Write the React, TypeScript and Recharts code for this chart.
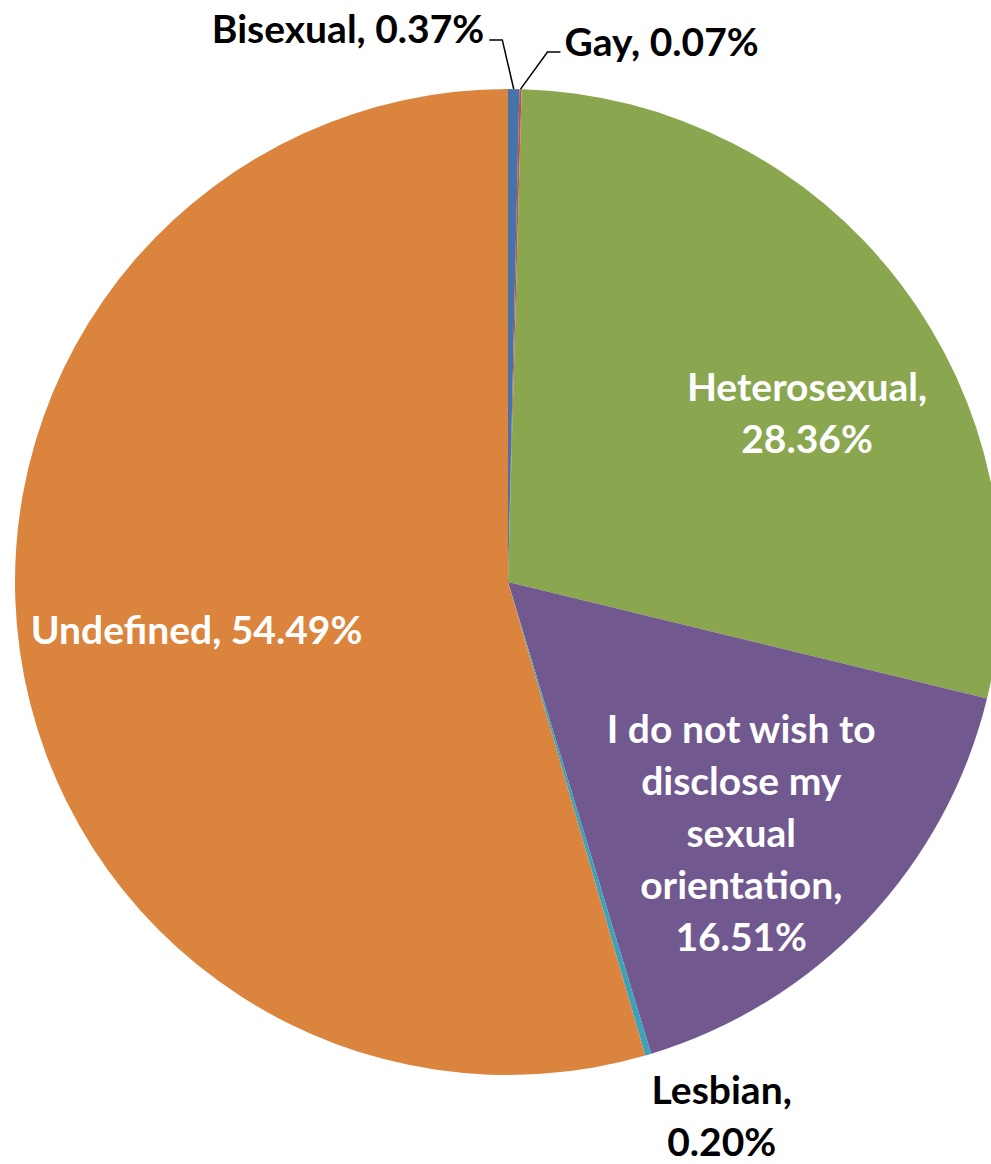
import React from 'react';
import { PieChart, Pie, Cell } from 'recharts';

const categories = [
  'Bisexual',
  'Gay',
  'Heterosexual',
  'I do not wish to disclose my sexual orientation',
  'Lesbian',
  'Undefined',
];
const shares = [0.37, 0.07, 28.36, 16.51, 0.2, 54.49];
const labelLines = [
  ['Bisexual, 0.37%'],
  ['Gay, 0.07%'],
  ['Heterosexual,', '28.36%'],
  ['I do not wish to', 'disclose my', 'sexual', 'orientation,', '16.51%'],
  ['Lesbian,', '0.20%'],
  ['Undefined, 54.49%'],
];
const colors = ['#4673AC', '#C0504D', '#8AA64F', '#71588F', '#3FA1B9', '#DB843D'];

const data = categories.map((name, i) => ({ name, value: shares[i], lines: labelLines[i] }));

// label layout: radius factor (of outer radius) and clockwise angle shift from slice middle
type Layout =
  | { kind: 'leader'; elbowR: number; elbowDA: number; arm: number; gap: number; base: number; color: string }
  | { kind: 'block'; r: number; da: number; color: string };

const layout: Layout[] = [
  { kind: 'leader', elbowR: 1.0997, elbowDA: -1.27, arm: -13, gap: 5, base: 3, color: '#000' },
  { kind: 'leader', elbowR: 1.078, elbowDA: 2.8, arm: 13, gap: 4, base: 4, color: '#000' },
  { kind: 'block', r: 0.697, da: 7.85, color: '#fff' },
  { kind: 'block', r: 0.695, da: 3.7, color: '#fff' },
  { kind: 'block', r: 1.166, da: -5.3, color: '#000' },
  { kind: 'block', r: 0.639, da: -0.66, color: '#fff' },
];

const FONT = 'Lato, "Open Sans", sans-serif';
const FS = 39;
const LH = 52;
const CAP_HALF = 14;
const RAD = Math.PI / 180;

const renderLabel = (props: any) => {
  const { cx, cy, midAngle, outerRadius, index } = props;
  const cfg = layout[index];
  const item = data[index];
  if (cfg.kind === 'leader') {
    const sx = cx + outerRadius * Math.cos(-midAngle * RAD);
    const sy = cy + outerRadius * Math.sin(-midAngle * RAD);
    const a = midAngle - cfg.elbowDA;
    const ex = cx + outerRadius * cfg.elbowR * Math.cos(-a * RAD);
    const ey = cy + outerRadius * cfg.elbowR * Math.sin(-a * RAD);
    const hx = ex + cfg.arm;
    const dir = Math.sign(cfg.arm);
    return (
      <g key={`lbl-${index}`}>
        <polyline points={`${sx},${sy} ${ex},${ey} ${hx},${ey}`} fill="none" stroke="#000" strokeWidth={1.5} />
        <text
          x={hx + dir * cfg.gap}
          y={ey + cfg.base}
          textAnchor={dir < 0 ? 'end' : 'start'}
          fill={cfg.color}
          fontFamily={FONT}
          fontWeight={700}
          fontSize={FS}
        >
          {item.lines[0]}
        </text>
      </g>
    );
  }
  const a = midAngle - cfg.da;
  const R = outerRadius * cfg.r;
  const x = cx + R * Math.cos(-a * RAD);
  const y = cy + R * Math.sin(-a * RAD);
  const n = item.lines.length;
  const y0 = y - ((n - 1) * LH) / 2 + CAP_HALF;
  return (
    <text
      key={`lbl-${index}`}
      x={x}
      y={y0}
      textAnchor="middle"
      fill={cfg.color}
      fontFamily={FONT}
      fontWeight={700}
      fontSize={FS}
    >
      {item.lines.map((l: string, i: number) => (
        <tspan key={i} x={x} y={y0 + i * LH}>
          {l}
        </tspan>
      ))}
    </text>
  );
};

export default function App() {
  return (
    <div style={{ position: 'absolute', left: 0, top: 0, width: 991, height: 1164, background: '#fff' }}>
      <PieChart width={991} height={1164} margin={{ top: 0, right: 0, bottom: 0, left: 0 }}>
        <Pie
          data={data}
          dataKey="value"
          nameKey="name"
          cx={508}
          cy={582}
          outerRadius={493}
          startAngle={90}
          endAngle={-270}
          stroke="none"
          label={renderLabel}
          labelLine={false}
          isAnimationActive={false}
        >
          {data.map((d, i) => (
            <Cell key={d.name} fill={colors[i]} />
          ))}
        </Pie>
      </PieChart>
    </div>
  );
}
